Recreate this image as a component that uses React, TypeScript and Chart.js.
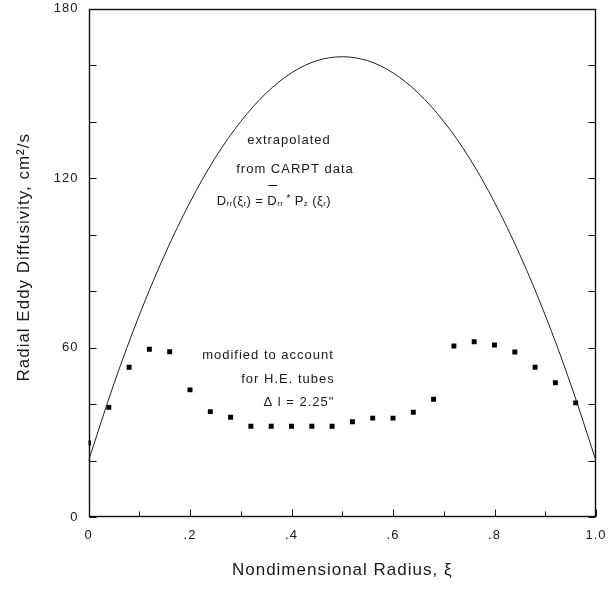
import React, { useEffect, useRef } from 'react';
import { Chart, registerables } from 'chart.js';

Chart.register(...registerables);

// Extrapolated diffusivity curve
const curveX = [0, 0.05, 0.1, 0.15, 0.2, 0.25, 0.3, 0.35, 0.4, 0.45, 0.5, 0.55, 0.6, 0.65, 0.7, 0.75, 0.8, 0.85, 0.9, 0.95, 1.0];
const curveY = [20, 47.2, 71.5, 92.9, 111.5, 127.3, 140.1, 150.1, 157.3, 161.6, 163, 161.6, 157.3, 150.1, 140.1, 127.3, 111.5, 92.9, 71.5, 47.2, 20];

// Modified values (square markers)
const pointX = [0, 0.04, 0.08, 0.12, 0.16, 0.2, 0.24, 0.28, 0.32, 0.36, 0.4, 0.44, 0.48, 0.52, 0.56, 0.6, 0.64, 0.68, 0.72, 0.76, 0.8, 0.84, 0.88, 0.92, 0.96];
const pointY = [26.3, 38.9, 53.1, 59.5, 58.6, 45.1, 37.4, 35.4, 32.2, 32.2, 32.2, 32.2, 32.2, 33.8, 35.1, 35.1, 37.2, 41.8, 60.6, 62.1, 61.0, 58.5, 53.1, 47.6, 40.5];

// Tick marks
const xLabelTicks = [0, 0.2, 0.4, 0.6, 0.8, 1.0];
const xTickMarks = [0, 0.1, 0.2, 0.3, 0.4, 0.5, 0.6, 0.7, 0.8, 0.9, 1.0];
const yLabelTicks = [0, 60, 120, 180];
const yTickMarks = [0, 20, 40, 60, 80, 100, 120, 140, 160, 180];

const xTitle = 'Nondimensional Radius, ξ';
const yTitle = '  Radial Eddy Diffusivity, cm²/s';

const FONT = '"Liberation Sans", Arial, Helvetica, sans-serif';
const TEXT = '#1a1a1a';

const spacingPlugin = {
  id: 'letterSpacing',
  beforeInit(chart: any) { chart.ctx.letterSpacing = '1px'; },
  beforeLayout(chart: any) { chart.ctx.letterSpacing = '1px'; },
  beforeDraw(chart: any) { chart.ctx.letterSpacing = '1px'; },
};

const framePlugin = {
  id: 'frameAndAnnotations',
  afterDraw(chart: any) {
    const { ctx, scales } = chart;
    const xs = scales.x;
    const ys = scales.y;
    ctx.save();
    ctx.strokeStyle = '#111';
    ctx.lineWidth = 1.4;
    const L = Math.round(xs.getPixelForValue(0)) + 0.5;
    const R = Math.round(xs.getPixelForValue(1)) - 0.5;
    const T = Math.round(ys.getPixelForValue(180)) + 0.5;
    const B = Math.round(ys.getPixelForValue(0)) - 0.5;
    ctx.strokeRect(L, T, R - L, B - T);

    // inward tick marks
    ctx.lineWidth = 1;
    ctx.beginPath();
    for (const v of xTickMarks) {
      const px = Math.round(xs.getPixelForValue(v)) + 0.5;
      const len = xLabelTicks.some((t) => Math.abs(t - v) < 1e-9) ? 7 : 5;
      ctx.moveTo(px, B);
      ctx.lineTo(px, B - len);
    }
    for (const v of yTickMarks) {
      const py = Math.round(ys.getPixelForValue(v)) + 0.5;
      ctx.moveTo(L, py);
      ctx.lineTo(L + 7, py);
      ctx.moveTo(R, py);
      ctx.lineTo(R - 7, py);
    }
    ctx.stroke();

    // annotations
    ctx.fillStyle = TEXT;
    ctx.textBaseline = 'middle';
    ctx.letterSpacing = '1px';
    const f = (s: number) => `${s}px ${FONT}`;
    const centerText = (t: string, x: number, y: number) => {
      ctx.font = f(13);
      ctx.textAlign = 'center';
      ctx.fillText(t, xs.getPixelForValue(x), ys.getPixelForValue(y));
    };
    centerText('extrapolated', 0.395, 133.3);
    centerText('from CARPT data', 0.407, 123.2);
    centerText('modified to account', 0.3537, 57.4);
    centerText('for H.E. tubes', 0.393, 48.8);
    centerText('\u0394 l = 2.25"', 0.4146, 40.6);

    // formula  D_rr(ξ_r) = D̄_rr * P_z (ξ_r)
    const parts: [string, number, number, boolean?][] = [
      ['D', 13, 0],
      ['rr', 8, 3],
      ['(\u03BE', 13, 0],
      ['r', 8, 3],
      [')', 13, 0],
      [' = ', 13, 0],
      ['D', 13, 0, true],
      ['rr', 8, 3],
      [' *', 10, -2],
      [' P', 13, 0],
      ['z', 8, 3],
      [' (\u03BE', 13, 0],
      ['r', 8, 3],
      [')', 13, 0],
    ];
    ctx.letterSpacing = '0.4px';
    let cx = xs.getPixelForValue(0.2526);
    const cy = ys.getPixelForValue(111.9);
    ctx.textAlign = 'left';
    for (const [t, size, dy, bar] of parts) {
      ctx.font = f(size);
      ctx.fillText(t, cx, cy + dy);
      const w = ctx.measureText(t).width;
      if (bar) {
        ctx.beginPath();
        ctx.moveTo(cx + 1, Math.round(cy - 16) + 0.5);
        ctx.lineTo(cx + w, Math.round(cy - 16) + 0.5);
        ctx.stroke();
      }
      cx += w;
    }
    ctx.restore();
  },
};

export default function App() {
  const ref = useRef<HTMLCanvasElement | null>(null);
  useEffect(() => {
    if (!ref.current) return;
    const chart = new Chart(ref.current, {
      type: 'scatter',
      data: {
        datasets: [
          {
            label: 'extrapolated',
            data: curveX.map((x, i) => ({ x, y: curveY[i] })),
            showLine: true,
            borderColor: '#222',
            borderWidth: 1,
            pointRadius: 0,
            cubicInterpolationMode: 'monotone',
            clip: 0,
          },
          {
            label: 'modified',
            data: pointX.map((x, i) => ({ x, y: pointY[i] })),
            showLine: false,
            pointStyle: 'rect',
            pointRadius: 3.5,
            pointBorderWidth: 0,
            pointBackgroundColor: '#000',
            pointBorderColor: '#000',
            clip: 0,
          },
        ],
      },
      options: {
        responsive: false,
        animation: false,
        events: [],
        layout: { padding: { top: 8.7, right: 12, left: 0, bottom: 0 } },
        plugins: { legend: { display: false }, tooltip: { enabled: false }, title: { display: false } },
        scales: {
          x: {
            type: 'linear',
            min: 0,
            max: 1,
            afterFit: (s: any) => { s.height = 72.7; s.paddingLeft = 0; s.paddingRight = 0; },
            afterBuildTicks: (s: any) => { s.ticks = xLabelTicks.map((v) => ({ value: v })); },
            grid: { display: false, drawTicks: false },
            border: { display: false },
            ticks: {
              padding: 10,
              color: TEXT,
              font: { family: FONT, size: 13 },
              maxRotation: 0,
              callback: (v: any) => {
                const n = Number(v);
                if (n === 0) return '0';
                if (n === 1) return '1.0';
                return n.toFixed(1).replace(/^0/, '');
              },
            },
            title: {
              display: true,
              text: xTitle,
              color: TEXT,
              font: { family: FONT, size: 17 },
              padding: { top: 0, bottom: 9 },
            },
          },
          y: {
            type: 'linear',
            min: 0,
            max: 180,
            afterFit: (s: any) => { s.width = 88.5; s.paddingTop = 0; s.paddingBottom = 0; },
            afterBuildTicks: (s: any) => { s.ticks = yLabelTicks.map((v) => ({ value: v })); },
            grid: { display: false, drawTicks: false },
            border: { display: false },
            ticks: {
              padding: 10,
              color: TEXT,
              font: { family: FONT, size: 13 },
            },
            title: {
              display: true,
              text: yTitle,
              color: TEXT,
              font: { family: FONT, size: 17 },
              padding: { top: 14, bottom: 0 },
            },
          },
        },
      },
      plugins: [spacingPlugin, framePlugin],
    } as any);
    return () => chart.destroy();
  }, []);
  return (
    <div style={{ position: 'absolute', left: 0, top: 0, width: 608, height: 590, background: '#fff', overflow: 'hidden' }}>
      <canvas ref={ref} width={608} height={590} style={{ display: 'block' }} />
    </div>
  );
}
